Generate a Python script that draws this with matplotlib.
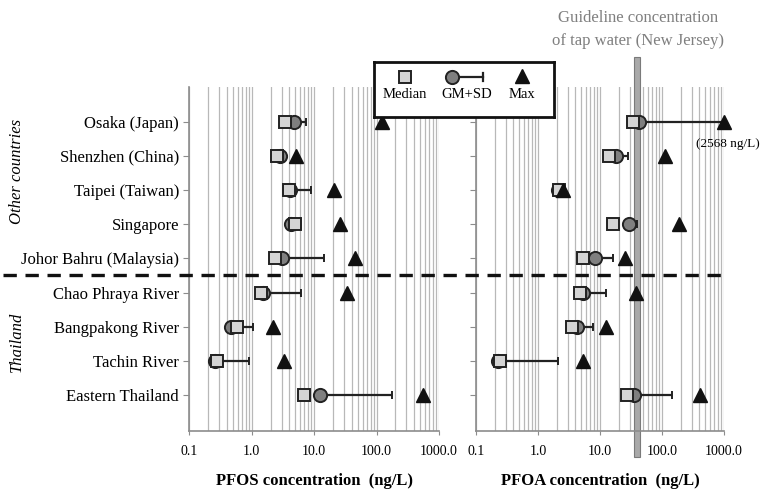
import numpy as np
import matplotlib
matplotlib.use("Agg")
import matplotlib.pyplot as plt
import matplotlib.transforms as mtransforms
from matplotlib.patches import Rectangle
from matplotlib.lines import Line2D

plt.rcParams['font.family'] = ['Liberation Serif', 'DejaVu Serif']

sites = ["Osaka (Japan)", "Shenzhen (China)", "Taipei (Taiwan)", "Singapore",
         "Johor Bahru (Malaysia)", "Chao Phraya River", "Bangpakong River",
         "Tachin River", "Eastern Thailand"]

pfos_median = [3.4, 2.5, 4.0, 4.9, 2.35, 1.39, 0.59, 0.28, 6.9]
pfos_gm = [4.8, 2.8, 4.1, 4.2, 3.1, 1.53, 0.46, 0.26, 12.5]
pfos_sd = [7.4, 3.0, 8.9, 4.6, 14.3, 6.05, 1.06, 0.9, 175]
pfos_max = [122, 5.2, 21, 26, 45, 33, 2.2, 3.3, 562]

pfoa_median = [34.5, 14.1, 2.15, 16.4, 5.4, 4.75, 3.6, 0.24, 27.5]
pfoa_gm = [43, 17.9, 2.1, 29.7, 8.3, 5.4, 4.3, 0.23, 35.7]
pfoa_sd = [1000, 27.9, 2.2, 38.9, 16, 12.4, 7.6, 2.13, 146.7]
pfoa_max = [2568, 112, 2.56, 188, 25.6, 37.7, 12.5, 5.4, 410]

guideline = 40  # ng/L, New Jersey tap water
xticks = [0.1, 1, 10, 100, 1000]
xticklabels = ["0.1", "1.0", "10.0", "100.0", "1000.0"]

W, H = 763, 491
fig = plt.figure(figsize=(W / 100, H / 100), dpi=100)


def fx(px):
    return px / W


def fy(py):
    return 1 - py / H


ax_bottom, ax_top = 431, 87
ax_h = ax_bottom - ax_top
ax1 = fig.add_axes([fx(189.3), fy(ax_bottom), fx(439 - 189.3), ax_h / H])
ax2 = fig.add_axes([fx(476), fy(ax_bottom), fx(724 - 476), ax_h / H])

y = np.arange(len(sites))
grid_c = '#b8b8b8'
spine_c = '#8c8c8c'
edge_c = '#222222'


def draw_panel(ax, med, gm, sd, mx, xlabel):
    ax.set_xscale('log')
    ax.set_xlim(0.1, 1000)
    ax.set_ylim(8 + 1.04, -1.01)
    ax.grid(True, which='both', axis='x', color=grid_c, lw=0.9, zorder=0)
    ax.set_axisbelow(True)
    for s in ['top', 'right']:
        ax.spines[s].set_visible(False)
    for s in ['left', 'bottom']:
        ax.spines[s].set_color(spine_c)
        ax.spines[s].set_linewidth(1.2)
    ax.set_xticks(xticks)
    ax.set_xticklabels(xticklabels, fontsize=10)
    ax.xaxis.set_minor_formatter(plt.NullFormatter())
    ax.tick_params(axis='x', which='minor', length=0)
    ax.tick_params(axis='x', which='major', length=3, color=spine_c, pad=7)
    ax.tick_params(axis='y', length=4, color=spine_c)
    ax.set_yticks(y)
    ax.set_xlabel(xlabel, fontsize=12, fontweight='bold', va='center')
    ax.xaxis.set_label_coords(0.5, -(481 - ax_bottom) / ax_h)

    mx_plot = np.minimum(mx, 1000)
    sd_plot = np.minimum(sd, 1000)
    gm = np.asarray(gm)
    ax.errorbar(gm, y, xerr=[np.zeros(len(gm)), sd_plot - gm], fmt='o',
                ms=9.5, mfc='#7f7f7f', mec=edge_c, mew=1.4, ecolor=edge_c,
                elinewidth=1.6, capsize=3.2, capthick=1.6, zorder=3)
    ax.plot(med, y, 's', ms=8.5, mfc='#d4d4d4', mec=edge_c, mew=1.4, zorder=4)
    ax.plot(mx_plot, y, '^', ms=10, mfc='#111111', mec='#111111', zorder=5,
            clip_on=False)


draw_panel(ax1, pfos_median, pfos_gm, pfos_sd, pfos_max, "PFOS concentration  (ng/L)")
draw_panel(ax2, pfoa_median, pfoa_gm, pfoa_sd, pfoa_max, "PFOA concentration  (ng/L)")
ax1.set_yticklabels(sites, fontsize=12)
ax2.set_yticklabels([])

# guideline band
trans = mtransforms.blended_transform_factory(ax2.transData, ax2.transAxes)
lo, hi = guideline / 10 ** 0.048, guideline * 10 ** 0.048
band = Rectangle((lo, -0.0756), hi - lo, 1.0756 + 0.087, transform=trans,
                 facecolor='#a9a9a9', edgecolor='#7a7a7a', lw=0.8,
                 clip_on=False, zorder=2)
ax2.add_patch(band)
fig.text(fx(638), fy(18), "Guideline concentration", ha='center', va='center',
         fontsize=12, color='#7f7f7f')
fig.text(fx(638), fy(41), "of tap water (New Jersey)", ha='center', va='center',
         fontsize=12, color='#7f7f7f')

# clipped max annotation
ax2.annotate("(%d ng/L)" % pfoa_max[0], xy=(1000, 0), xytext=(3, -16),
             textcoords='offset points', ha='center', va='center', fontsize=9.5,
             annotation_clip=False)

# divider between groups
fig.add_artist(Line2D([fx(3), fx(722)], [fy(274.5), fy(274.5)], color='#111111',
                      lw=2.4, dashes=(4, 2.6)))

fig.text(fx(17), fy(171), "Other countries", rotation=90, ha='center', va='center',
         fontsize=12, style='italic')
fig.text(fx(17), fy(342), "Thailand", rotation=90, ha='center', va='center',
         fontsize=12, style='italic')

# legend box
lax = fig.add_axes([fx(374), fy(117), fx(180), 55 / H], zorder=10)
lax.set_xlim(374, 554)
lax.set_ylim(117, 62)
lax.set_xticks([])
lax.set_yticks([])
for s in lax.spines.values():
    s.set_linewidth(2)
    s.set_color('#111111')
lax.plot([405], [77], 's', ms=8.5, mfc='#d4d4d4', mec=edge_c, mew=1.4)
lax.plot([452, 483], [77, 77], color=edge_c, lw=1.6)
lax.plot([483, 483], [73, 81], color=edge_c, lw=1.6)
lax.plot([452], [77], 'o', ms=9.5, mfc='#7f7f7f', mec=edge_c, mew=1.4)
lax.plot([522], [76], '^', ms=10, mfc='#111111', mec='#111111')
lax.text(405, 95, "Median", ha='center', va='center', fontsize=10.5)
lax.text(467, 95, "GM+SD", ha='center', va='center', fontsize=10.5)
lax.text(522, 95, "Max", ha='center', va='center', fontsize=10.5)

fig.savefig("out.png", dpi=100)
